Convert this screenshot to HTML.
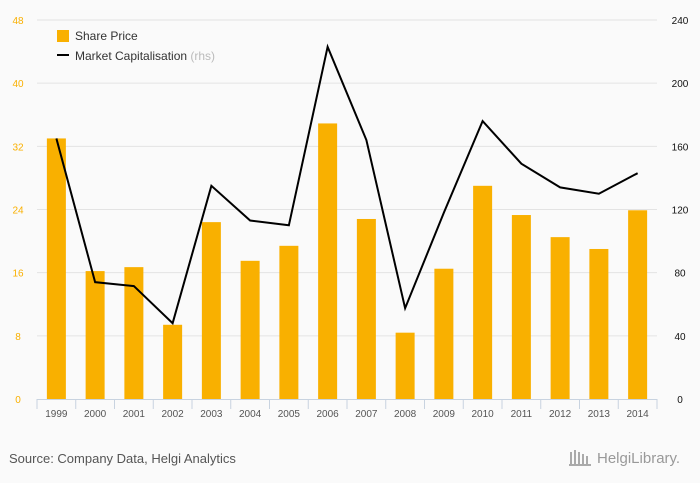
<!DOCTYPE html>
<html><head><meta charset="utf-8"><style>
body{margin:0;background:#fafafa;font-family:"Liberation Sans",sans-serif}
svg{display:block}
</style></head><body>
<svg id="c" width="700" height="483" font-family="Liberation Sans, sans-serif">
<g id="grid"></g><g id="bars"></g><g id="line"></g><g id="axes"></g>
<g>
<rect x="57" y="30" width="12" height="12" fill="#f9b000"/>
<text x="75" y="40" font-size="12" fill="#333">Share Price</text>
<rect x="57" y="54" width="12" height="2" fill="#000"/>
<text x="75" y="60" font-size="12" fill="#333">Market Capitalisation <tspan fill="#bbb">(rhs)</tspan></text>
</g>
<text x="9" y="463" font-size="13" fill="#555">Source: Company Data, Helgi Analytics</text>
<text x="597" y="463" font-size="15" fill="#999">HelgiLibrary.</text>
<g fill="#aaa"><rect x="570" y="452" width="2" height="14"/><rect x="574" y="450" width="2" height="16"/><rect x="578" y="452" width="2" height="14"/><rect x="582" y="454" width="2" height="12"/><rect x="586" y="456" width="2" height="10"/><rect x="569" y="464" width="22" height="2"/></g>
</svg>
<script>
const years=["1999","2000","2001","2002","2003","2004","2005","2006","2007","2008","2009","2010","2011","2012","2013","2014"];
const sharePrice=[33.0,16.2,16.7,9.4,22.4,17.5,19.4,34.9,22.8,8.4,16.5,27.0,23.3,20.5,19.0,23.9];
const marketCap=[165,74,71.5,48,135,113,110,223,164,57.5,118,176,149,134,130,143];
const leftTicks=[0,8,16,24,32,40,48];
const rightTicks=[0,40,80,120,160,200,240];
const NS="http://www.w3.org/2000/svg";
const X0=37,X1=657,Y0=399,Y1=20;
const bw=(X1-X0)/years.length;
const xc=i=>X0+bw*(i+0.5);
const yL=v=>Y0-(v/48)*(Y0-Y1);
const yR=v=>Y0-(v/240)*(Y0-Y1);
function mk(t,a,p){const e=document.createElementNS(NS,t);for(const k in a)e.setAttribute(k,a[k]);p.appendChild(e);return e;}
const grid=document.getElementById('grid'),bars=document.getElementById('bars'),line=document.getElementById('line'),axes=document.getElementById('axes');
leftTicks.forEach((t,i)=>{
  if(t>0){const g=mk('line',{x1:X0,x2:X1,y1:yL(t),y2:yL(t),stroke:'#e3e3e3','stroke-width':1},grid);
  
  }
  const l=mk('text',{x:18,y:yL(t)+4,'font-size':10,fill:'#f9b000','text-anchor':'middle'},axes);l.textContent=t;
  
  
});
rightTicks.forEach(t=>{
  const l=mk('text',{x:680,y:yR(t)+4,'font-size':10,fill:'#111','text-anchor':'middle'},axes);l.textContent=t;
  
  
});
sharePrice.forEach((v,i)=>{
  const r=mk('rect',{x:xc(i)-9.5,y:yL(v),width:19,height:Y0-yL(v),fill:'#f9b000'},bars);
  
  
});
const p=mk('polyline',{points:marketCap.map((v,i)=>xc(i)+','+yR(v)).join(' '),fill:'none',stroke:'#000','stroke-width':2},line);


const ax=mk('line',{x1:X0,x2:X1,y1:Y0+0.5,y2:Y0+0.5,stroke:'#c8d3e0'},axes);


for(let i=0;i<=years.length;i++){const tk=mk('line',{x1:X0+bw*i,x2:X0+bw*i,y1:Y0,y2:Y0+10,stroke:'#c8d3e0'},axes);
  
  }
years.forEach((y,i)=>{const l=mk('text',{x:xc(i),y:417,'font-size':10,fill:'#555','text-anchor':'middle'},axes);l.textContent=y;
  
  });
</script>
</body></html>
